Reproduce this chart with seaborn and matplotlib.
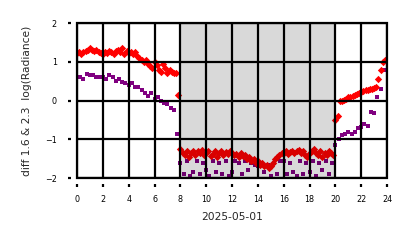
import numpy as np
import pandas as pd
import matplotlib
matplotlib.use("Agg")
import matplotlib.pyplot as plt
from matplotlib.patches import Rectangle
import seaborn as sns

# red series: every 10 minutes
red_vals = [
    # 0-2
    1.22, 1.25, 1.20, 1.25, 1.28, 1.30, 1.35, 1.30, 1.28, 1.30, 1.25, 1.22,
    # 2-4
    1.20, 1.25, 1.22, 1.28, 1.25, 1.20, 1.28, 1.30, 1.25, 1.35, 1.20, 1.28,
    # 4-6
    1.22, 1.25, 1.20, 1.25, 1.15, 1.10, 1.05, 1.00, 1.05, 0.95, 0.90, 0.85,
    # 6-8
    1.00, 0.92, 0.80, 0.75, 0.95, 0.85, 0.72, 0.80, 0.75, 0.70, 0.72, 0.15,
    # 8-10
    -1.25, -1.35, -1.40, -1.30, -1.45, -1.35, -1.30, -1.40, -1.30, -1.35, -1.28, -1.40,
    # 10-12
    -1.35, -1.30, -1.42, -1.38, -1.30, -1.45, -1.35, -1.30, -1.40, -1.32, -1.38, -1.30,
    # 12-14
    -1.35, -1.40, -1.38, -1.45, -1.35, -1.42, -1.40, -1.50, -1.45, -1.55, -1.50, -1.60,
    # 14-16
    -1.55, -1.65, -1.60, -1.70, -1.65, -1.75, -1.70, -1.60, -1.50, -1.45, -1.40, -1.35,
    # 16-18
    -1.35, -1.30, -1.38, -1.32, -1.30, -1.35, -1.30, -1.28, -1.35, -1.30, -1.40, -1.45,
    # 18-20
    -1.35, -1.30, -1.25, -1.35, -1.40, -1.30, -1.45, -1.35, -1.40, -1.30, -1.35, -1.40,
    # 20-22
    -0.50, -0.40, 0.00, -0.02, 0.02, 0.05, 0.08, 0.10, 0.12, 0.15, 0.18, 0.20,
    # 22-24
    0.22, 0.25, 0.27, 0.28, 0.30, 0.30, 0.32, 0.35, 0.55, 0.80, 1.00, 1.05,
]

# purple series: every 15 minutes
purple_vals = [
    # 0-2
    0.60, 0.62, 0.55, 0.68, 0.65, 0.65, 0.62, 0.60,
    # 2-4
    0.62, 0.55, 0.65, 0.60, 0.50, 0.55, 0.48, 0.45,
    # 4-6
    0.40, 0.45, 0.35, 0.35, 0.28, 0.20, 0.12, 0.20,
    # 6-8
    0.05, 0.10, -0.02, -0.05, -0.10, -0.20, -0.25, -0.85,
    # 8-10
    -1.60, -1.90, -1.55, -1.95, -1.85, -1.55, -1.90, -1.60,
    # 10-12
    -1.80, -1.95, -1.55, -1.85, -1.60, -1.90, -1.55, -1.95,
    # 12-14
    -1.85, -1.55, -1.60, -1.90, -1.55, -1.80, -1.60, -1.65,
    # 14-16
    -1.70, -1.60, -1.85, -1.65, -1.95, -1.60, -1.90, -1.55,
    # 16-18
    -1.55, -1.90, -1.60, -1.85, -1.95, -1.55, -1.90, -1.60,
    # 18-20
    -1.85, -1.55, -1.95, -1.60, -1.80, -1.55, -1.90, -1.60,
    # 20-22
    -1.15, -1.00, -0.90, -0.85, -0.80, -0.85, -0.80, -0.70,
    # 22-24
    -0.68, -0.60, -0.65, -0.30, -0.32, 0.10, 0.30, 0.80,
]

red_step_min = 10
purple_step_min = 15

xticks = [0, 2, 4, 6, 8, 10, 12, 14, 16, 18, 20, 22, 24]
yticks = [-2, -1, 0, 1, 2]
night_start, night_end = 8, 20

red_df = pd.DataFrame({"hour": np.arange(len(red_vals)) * red_step_min / 60.0,
                       "val": red_vals})
purple_df = pd.DataFrame({"hour": np.arange(len(purple_vals)) * purple_step_min / 60.0,
                          "val": purple_vals})

sns.set_style("white")
plt.rcParams["font.family"] = ["DejaVu Sans"]

fig = plt.figure(figsize=(4.14, 2.48), dpi=100)
ax = fig.add_axes([0.186, 0.282, 0.749, 0.625])

sns.scatterplot(data=purple_df, x="hour", y="val", ax=ax, color="#800080",
                marker="s", s=7, linewidth=0, zorder=1)
sns.scatterplot(data=red_df, x="hour", y="val", ax=ax, color="#ff0000",
                marker="D", s=14, linewidth=0, zorder=1.2)

ax.axvspan(night_start, night_end, color="black", alpha=0.15, lw=0, zorder=2)

ax.set_xlim(0, 24)
ax.set_ylim(-2, 2)
ax.set_xticks(xticks)
ax.set_yticks(yticks)
ax.set_xticklabels([str(t) for t in xticks])
ax.set_yticklabels([f"{t}" if t >= 0 else f"\u2212{abs(t)}" for t in yticks])
ax.set_axisbelow(False)
ax.grid(True, color="black", linewidth=1.6)

# offset (invisible) spines so ticks sit away from the frame
for side in ["left", "bottom"]:
    ax.spines[side].set_position(("outward", 4.5))
    ax.spines[side].set_visible(False)
for side in ["top", "right"]:
    ax.spines[side].set_visible(False)
ax.add_patch(Rectangle((0, 0), 1, 1, transform=ax.transAxes, fill=False,
                       edgecolor="black", lw=1.6, clip_on=False, zorder=3))

ax.tick_params(axis="both", labelsize=5.8, length=2.0, width=1.6, direction="out",
               colors="black", bottom=True, left=True)
ax.tick_params(axis="x", pad=5.5)
ax.tick_params(axis="y", pad=8)
ax.set_xlabel("2025-05-01", fontsize=7.7, labelpad=6)
ax.set_ylabel("diff 1.6 & 2.3  log(Radiance)", fontsize=7.7, labelpad=9)

fig.savefig("out.png", dpi=100)
